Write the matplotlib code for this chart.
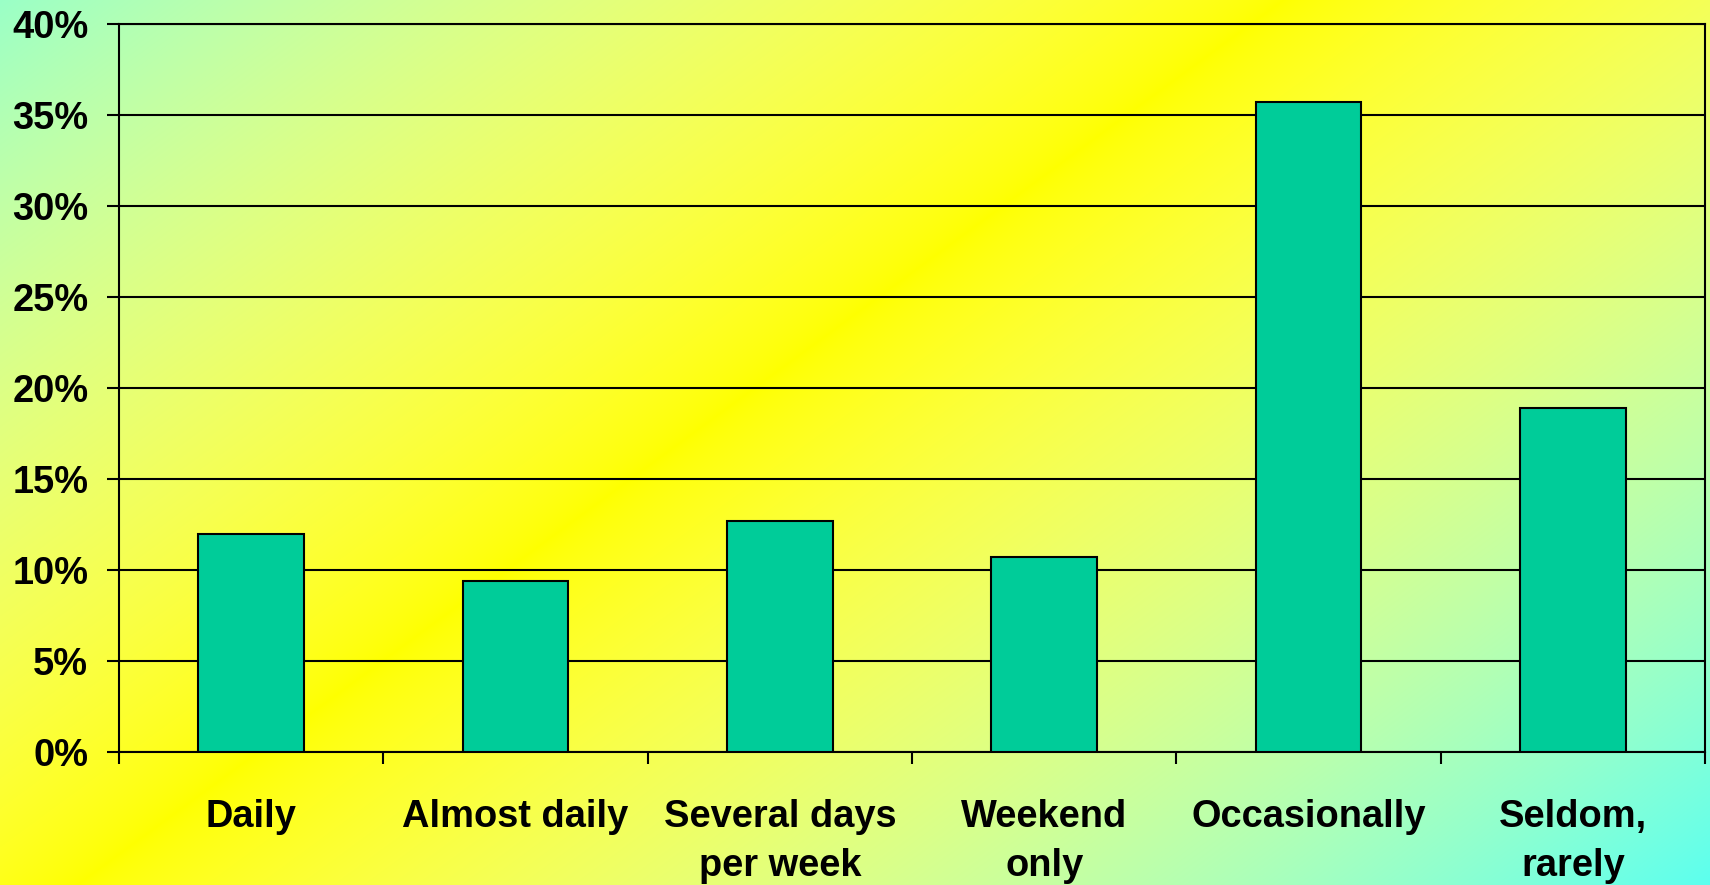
import numpy as np
import matplotlib
matplotlib.use("Agg")
import matplotlib.pyplot as plt
from matplotlib.ticker import FixedLocator, PercentFormatter

# Share of respondents by frequency
categories = ["Daily", "Almost daily", "Several days\nper week", "Weekend\nonly",
              "Occasionally", "Seldom,\nrarely"]
values = [12.0, 9.4, 12.7, 10.7, 35.7, 18.9]
y_ticks = [0, 5, 10, 15, 20, 25, 30, 35, 40]

W, H, DPI = 1710, 885, 100
fig = plt.figure(figsize=(W / DPI, H / DPI), dpi=DPI)

# Diagonal background: yellow band fading to aqua towards two corners
yy, xx = np.mgrid[0:H, 0:W].astype(float)
slope = 0.734
dist = ((xx - 110) * slope + (yy - 860)) / np.hypot(1, slope)
f = np.clip(np.abs(dist) / 1000.0, 0, 1)
bg = np.empty((H, W, 3))
bg[..., 0] = (255 - 175 * f ** 2) / 255
bg[..., 1] = 1.0
bg[..., 2] = (245 * f ** 0.75) / 255
bg_ax = fig.add_axes([0, 0, 1, 1], zorder=-10)
bg_ax.imshow(bg, aspect="auto", extent=(0, 1, 0, 1), interpolation="bilinear")
bg_ax.set_axis_off()

left, right = 119 / W, 1705 / W
bottom, top = 1 - 752 / H, 1 - 24 / H
ax = fig.add_axes([left, bottom, right - left, top - bottom])
ax.set_facecolor("none")

x = np.arange(len(categories))
ax.bar(x, values, width=0.4, color="#00CC99", edgecolor="black", linewidth=1.5, zorder=3)

ax.set_xlim(-0.5, len(categories) - 0.5)
ax.set_ylim(0, 40)
ax.yaxis.set_major_locator(FixedLocator(y_ticks))
ax.yaxis.set_major_formatter(PercentFormatter(decimals=0))
ax.grid(axis="y", color="black", linewidth=1.5, zorder=1)
ax.set_axisbelow(True)

family = ["Liberation Sans", "DejaVu Sans"]
size = 27.4
ax.tick_params(axis="y", direction="out", length=8.6, width=1.5, pad=13.5, colors="black")
for lbl in ax.get_yticklabels():
    lbl.set_family(family)
    lbl.set_weight("bold")
    lbl.set_size(size)

# Category labels centred under bars, ticks at category boundaries
ax.set_xticks(x)
ax.set_xticklabels(categories, linespacing=1.47, family=family, weight="bold", size=size)
ax.tick_params(axis="x", which="major", length=0, pad=33.5)
ax.set_xticks(np.arange(-0.5, len(categories)), minor=True)
ax.tick_params(axis="x", which="minor", direction="out", length=8.6, width=1.5)

for side in ["left", "right", "top", "bottom"]:
    ax.spines[side].set_color("black")
    ax.spines[side].set_linewidth(1.5)

fig.savefig("out.png", dpi=DPI)
